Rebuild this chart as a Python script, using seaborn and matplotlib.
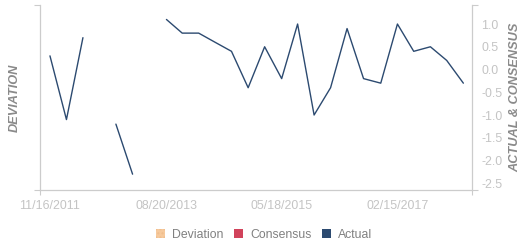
import numpy as np
import pandas as pd
import matplotlib
matplotlib.use("Agg")
import matplotlib.pyplot as plt
import matplotlib.dates as mdates
from matplotlib.patches import Patch
import seaborn as sns

# ---- data ----
dates = ["2011-11-16", "2012-02-15", "2012-05-16", "2012-08-15", "2012-11-14",
         "2013-02-14", "2013-05-16", "2013-08-20", "2013-11-15", "2014-02-14",
         "2014-05-15", "2014-08-14", "2014-11-14", "2015-02-13", "2015-05-18",
         "2015-08-14", "2015-11-13", "2016-02-12", "2016-05-13", "2016-08-12",
         "2016-11-15", "2017-02-15", "2017-05-16", "2017-08-16", "2017-11-14",
         "2018-02-14"]
actual = [0.3, -1.1, 0.7, np.nan, -1.2, -2.3, np.nan, 1.1, 0.8, 0.8,
          0.6, 0.4, -0.4, 0.5, -0.2, 1.0, -1.0, -0.4, 0.9, -0.2,
          -0.3, 1.0, 0.4, 0.5, 0.2, -0.3]
xtick_dates = ["2011-11-16", "2013-08-20", "2015-05-18", "2017-02-15"]
xtick_labels = ["11/16/2011", "08/20/2013", "05/18/2015", "02/15/2017"]
ytick_values = [1.0, 0.5, 0.0, -0.5, -1.0, -1.5, -2.0, -2.5]
legend_labels = ["Deviation", "Consensus", "Actual"]
legend_colors = ["#f6c99c", "#d1435b", "#2c4a70"]

# ---- styling ----
sns.set_theme(style="white")
plt.rcParams["font.family"] = ["Liberation Sans", "DejaVu Sans"]

GRID = "#cccccc"
TICK = "#c4c4c4"
LABEL = "#8a8a8a"

df = pd.DataFrame({"date": pd.to_datetime(dates), "actual": actual})
df["seg"] = df["actual"].isna().cumsum()
df = df.dropna()

fig = plt.figure(figsize=(5.31, 2.5), dpi=100)
ax = fig.add_axes([40 / 531, 1 - 190 / 250, (471.7 - 40) / 531, 185 / 250])
ax2 = ax.twinx()

sns.lineplot(data=df, x="date", y="actual", units="seg", estimator=None,
             color=legend_colors[2], linewidth=1.0, ax=ax2, legend=False)

xmin = pd.Timestamp("2011-09-22")
xmax = pd.Timestamp("2018-04-01")
ax.set_xlim(xmin, xmax)
ylo, yhi = -2.648, 1.418
ax2.set_ylim(ylo, yhi)
ax.set_ylim(0, 1)

# x axis
ax.set_xticks(pd.to_datetime(xtick_dates))
ax.set_xticklabels(xtick_labels)
ax.set_xticks([mdates.date2num(xmin), mdates.date2num(xmax)], minor=True)
ax.tick_params(axis="x", which="major", length=0, pad=7, labelsize=8.9,
               labelcolor=TICK)
ax.tick_params(axis="x", which="minor", length=3.8, width=0.8, color=GRID,
               direction="out", bottom=True)

# left axis: no labels, end ticks only
ax.set_yticks([])
ax.set_yticks([0, 1], minor=True)
ax.tick_params(axis="y", which="minor", length=4.3, width=0.8, color=GRID,
               direction="out", left=True, labelleft=False)
ax.set_ylabel("")

# right axis
ax2.set_yticks(ytick_values)
ax2.set_yticklabels([f"{v:.1f}" for v in ytick_values])
ax2.set_yticks([ylo, yhi], minor=True)
ax2.tick_params(axis="y", which="major", length=0, pad=7, labelsize=8.9,
                labelcolor=TICK)
ax2.tick_params(axis="y", which="minor", length=4.3, width=0.8, color=GRID,
                direction="out", right=True)
ax2.set_ylabel("")
ax2.set_xlabel("")
ax.set_xlabel("")

for a in (ax, ax2):
    a.spines["top"].set_visible(False)
    for s in ("left", "right", "bottom"):
        a.spines[s].set_color(GRID)
        a.spines[s].set_linewidth(0.9)
    a.grid(False)
ax.spines["right"].set_visible(False)
ax2.spines["left"].set_visible(False)
ax2.spines["bottom"].set_visible(False)

fig.text(15 / 531, 1 - 97.5 / 250, "DEVIATION", rotation=90, ha="center",
         va="center", fontsize=9.2, fontweight="bold", fontstyle="italic",
         color=LABEL)
fig.text(515 / 531, 1 - 97.2 / 250, "ACTUAL & CONSENSUS", rotation=90,
         ha="center", va="center", fontsize=9.2, fontweight="bold",
         fontstyle="italic", color=LABEL)

handles = [Patch(facecolor=c, edgecolor="none") for c in legend_colors]
handles[0].set_hatch("....")
handles[0].set_edgecolor("#f0bd8c")
handles[0].set_linewidth(0)
fig.legend(handles, legend_labels, loc="center",
           bbox_to_anchor=(264 / 531, 1 - 235 / 250), ncol=3, frameon=False,
           handlelength=0.78, handleheight=0.78, handletextpad=0.55,
           columnspacing=0.85, fontsize=8.8, labelcolor="#808080",
           borderaxespad=0, borderpad=0)

fig.savefig("out.png", dpi=100)
